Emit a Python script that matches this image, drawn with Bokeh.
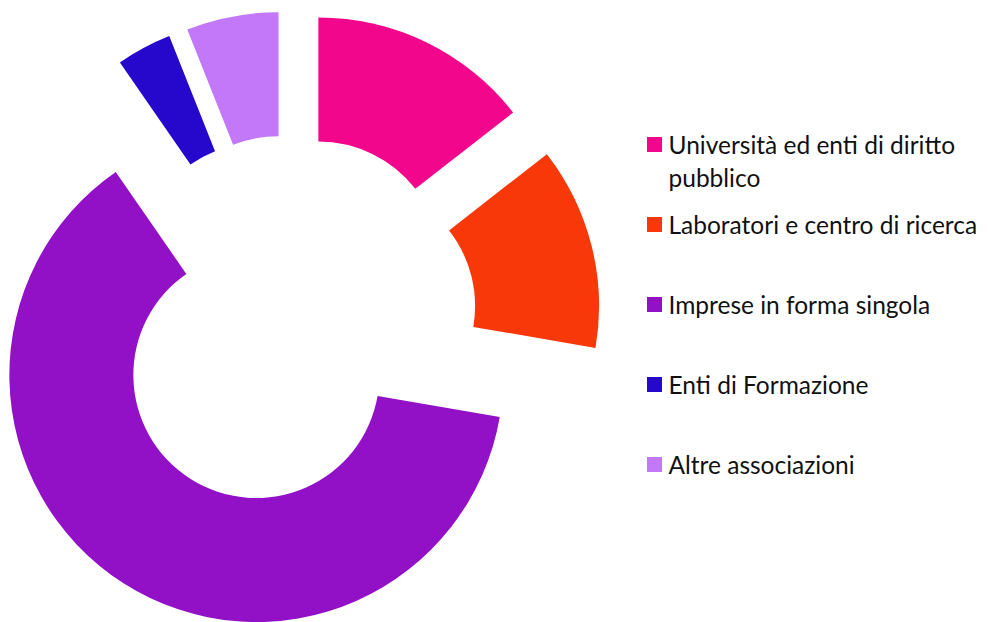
import numpy as np
from bokeh.plotting import figure
from bokeh.models import Range1d, ColumnDataSource
from bokeh.core.properties import value
from bokeh.embed import file_html
from bokeh.resources import INLINE

# ---- data ----
categories = ["Università ed enti di diritto pubblico",
              "Laboratori e centro di ricerca",
              "Imprese in forma singola",
              "Enti di Formazione",
              "Altre associazioni"]
legend_lines = [["Università ed enti di diritto", "pubblico"],
                ["Laboratori e centro di ricerca"],
                ["Imprese in forma singola"],
                ["Enti di Formazione"],
                ["Altre associazioni"]]
counts = [12, 11, 52, 3, 5]
colors = ["#F2078C", "#F83808", "#9210C6", "#2608CC", "#C278F8"]

# ---- geometry (pixel-like data units, y up) ----
cx, cy = 290.0, -321.0
outer_r, inner_r = 247.0, 123.0
explode = 63.5

vals = np.array(counts, dtype=float)
frac = vals / vals.sum()
ends = np.cumsum(frac) * 2 * np.pi          # clockwise from 12 o'clock
starts = ends - frac * 2 * np.pi
mid = (starts + ends) / 2
xs = cx + explode * np.sin(mid)
ys = cy + explode * np.cos(mid)

src = ColumnDataSource(dict(
    x=xs, y=ys,
    start=np.pi / 2 - starts,
    end=np.pi / 2 - ends,
    color=colors,
    name=categories,
))

p = figure(width=990, height=622, output_backend="svg", toolbar_location=None,
           x_range=Range1d(0, 990), y_range=Range1d(-622, 0),
           min_border=0, tools="")
p.xaxis.visible = False
p.yaxis.visible = False
p.grid.visible = False
p.outline_line_color = None
p.background_fill_color = "white"
p.border_fill_color = "white"

p.annular_wedge(x="x", y="y", inner_radius=inner_r, outer_radius=outer_r,
                start_angle="start", end_angle="end", direction="clock",
                fill_color="color", line_color=None, source=src)

# ---- legend (manual) ----
legend_x_marker = 654
legend_x_text = 668
row_centers = [145, 225, 305, 385, 465]
line_gap = 33

mx, my, mc = [], [], []
tx, ty, tt = [], [], []
for i, lines in enumerate(legend_lines):
    c = row_centers[i]
    mx.append(legend_x_marker)
    my.append(-(c - 1))
    mc.append(colors[i])
    for j, t in enumerate(lines):
        tx.append(legend_x_text)
        ty.append(-(c - 1 + j * line_gap))
        tt.append(t)

p.scatter(x=mx, y=my, marker="square", size=15, fill_color=mc, line_color=None)
p.text(x=tx, y=ty, text=tt, text_font=value("Lato"), text_font_size="24.5px",
       text_baseline="alphabetic", text_align="left", text_color="#111111")

open("out.html", "w").write(file_html(p, INLINE))
